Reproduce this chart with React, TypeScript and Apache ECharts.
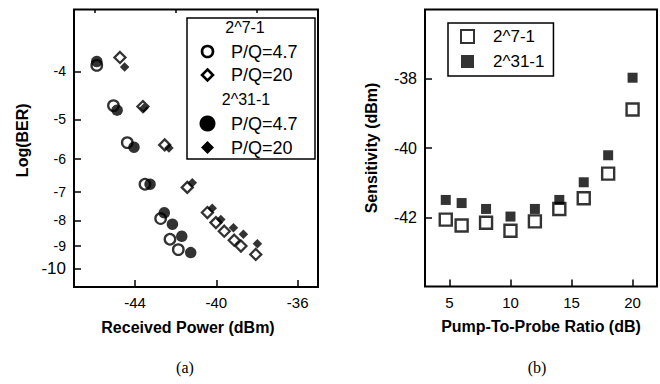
import React, { useEffect, useRef } from 'react';
import * as echarts from 'echarts';

// ---------- Panel (a): BER vs received power ----------
// 2^7-1, P/Q = 4.7 (open circles)
const pwr7_47 = [-45.88, -45.06, -44.38, -43.51, -42.74, -42.28, -41.87];
const ber7_47 = [-3.89, -4.69, -5.57, -6.76, -7.93, -8.73, -9.16];
// 2^7-1, P/Q = 20 (open diamonds)
const pwr7_20 = [-44.74, -43.61, -42.54, -41.43, -40.44, -40.02, -39.61, -39.12, -38.79, -38.06];
const ber7_20 = [-3.75, -4.71, -5.63, -6.86, -7.71, -8.08, -8.41, -8.77, -9.01, -9.37];
// 2^31-1, P/Q = 4.7 (filled circles)
const pwr31_47 = [-45.88, -44.88, -44.05, -43.26, -42.56, -42.16, -41.7, -41.26];
const ber31_47 = [-3.82, -4.79, -5.69, -6.76, -7.72, -8.14, -8.61, -9.29];
// 2^31-1, P/Q = 20 (filled diamonds)
const pwr31_20 = [-44.51, -43.56, -42.33, -41.18, -40.2, -39.78, -39.16, -38.67, -37.98];
const ber31_20 = [-3.92, -4.74, -5.71, -6.71, -7.56, -7.96, -8.28, -8.53, -8.91];

const berTicks = [-4, -5, -6, -7, -8, -9, -10];
const powerTicks = [-44, -40, -36];
const powerMinorTicks = [-46, -42, -38];

// ---------- Panel (b): sensitivity vs pump-to-probe ratio ----------
const pumpRatio = [4.7, 6, 8, 10, 12, 14, 16, 18, 20];
const sens7 = [-42.07, -42.24, -42.16, -42.39, -42.12, -41.76, -41.45, -40.74, -38.89];
const sens31 = [-41.5, -41.59, -41.76, -41.98, -41.76, -41.5, -40.99, -40.21, -37.97];
const ratioTicks = [5, 10, 15, 20];

const FONT = '"Liberation Sans", Arial, Helvetica, sans-serif';
const SERIF = '"Liberation Serif", "Times New Roman", serif';

// BER axis is a log(-log BER) scale
const berAxis = (l: number) => Math.log10(-l);
const pairs = (xs: number[], ys: number[], f: (v: number) => number = (v) => v) =>
  xs.map((x, i) => [x, f(ys[i])]);

const openStyle = { color: '#fff', borderColor: '#000', borderWidth: 2.3 };
const filledStyle = { color: '#000', borderWidth: 0 };

const tickStyle = { color: '#000', width: 1.5 };

function buildOption() {
  const legendX = 207.5;
  const legendTextX = 231;
  const rows = [27, 51.5, 75, 99, 123.5, 147.5];
  const txt = (text: string, x: number, y: number, align: string, size: number) => ({
    type: 'text',
    silent: true,
    z: 20,
    style: {
      text,
      x,
      y,
      fill: '#000',
      font: `${size}px ${FONT}`,
      align,
      verticalAlign: 'middle',
      textAlign: align,
      textVerticalAlign: 'middle',
    },
  });
  const diamond = (cx: number, cy: number, h: number) => [
    [cx, cy - h],
    [cx + h, cy],
    [cx, cy + h],
    [cx - h, cy],
  ];

  return {
    animation: false,
    backgroundColor: '#fff',
    grid: [
      { left: 74, top: 9.5, width: 244, height: 277.5, show: true, borderColor: '#000', borderWidth: 2, backgroundColor: 'transparent', outerBoundsMode: 'none' },
      { left: 425, top: 9.5, width: 232, height: 277, show: true, borderColor: '#000', borderWidth: 2, backgroundColor: 'transparent', outerBoundsMode: 'none' },
    ],
    legend: {
      data: ['2^7-1', '2^31-1'],
      left: 448,
      top: 23,
      orient: 'vertical',
      itemWidth: 13,
      itemHeight: 13,
      itemGap: 6,
      padding: [4, 9, 5, 12],
      borderColor: '#000',
      borderWidth: 1.5,
      selectedMode: false,
      textStyle: { fontSize: 17, fontFamily: FONT, color: '#000', padding: [0, 0, 0, 14], lineHeight: 19 },
    },
    xAxis: [
      {
        type: 'value',
        gridIndex: 0,
        min: -47,
        max: -35,
        axisLine: { show: false },
        splitLine: { show: false },
        axisTick: { show: true, inside: true, length: 7, customValues: powerTicks, lineStyle: tickStyle },
        axisLabel: { customValues: powerTicks, margin: 8, fontSize: 15, fontFamily: FONT, color: '#000' },
        name: 'Received Power (dBm)',
        nameLocation: 'middle',
        nameGap: 32,
        nameTextStyle: { fontSize: 16, fontWeight: 'bold', fontFamily: FONT, color: '#000', padding: [0, 16, 0, 0] },
      },
      {
        type: 'value',
        gridIndex: 0,
        min: -47,
        max: -35,
        axisLine: { show: false },
        splitLine: { show: false },
        axisLabel: { show: false },
        axisTick: { show: true, inside: true, length: 3.5, customValues: powerMinorTicks, lineStyle: tickStyle },
      },
      {
        type: 'value',
        gridIndex: 1,
        min: 3,
        max: 22,
        axisLine: { show: false },
        splitLine: { show: false },
        axisTick: { show: true, inside: true, length: 7, customValues: ratioTicks, lineStyle: tickStyle },
        axisLabel: { customValues: ratioTicks, margin: 8, fontSize: 15, fontFamily: FONT, color: '#000' },
        name: 'Pump-To-Probe Ratio (dB)',
        nameLocation: 'middle',
        nameGap: 32,
        nameTextStyle: { fontSize: 16, fontWeight: 'bold', fontFamily: FONT, color: '#000' },
      },
    ],
    yAxis: [
      {
        type: 'value',
        gridIndex: 0,
        inverse: true,
        min: berAxis(-3),
        max: berAxis(-10.9),
        axisLine: { show: false },
        splitLine: { show: false },
        axisTick: { show: true, inside: true, length: 7, customValues: berTicks.map(berAxis), lineStyle: tickStyle },
        axisLabel: {
          customValues: berTicks.map(berAxis),
          margin: 8,
          fontSize: 14,
          fontFamily: FONT,
          color: '#000',
          formatter: (v: number) => {
            const n = Math.round(Math.pow(10, v));
            return n === 10 ? '{big|-10}' : '-' + n;
          },
          rich: { big: { fontSize: 17, fontFamily: FONT, color: '#000' } },
        },
        name: 'Log(BER)',
        nameLocation: 'middle',
        nameGap: 44,
        nameTextStyle: { fontSize: 16, fontWeight: 'bold', fontFamily: FONT, color: '#000', padding: [0, 0, 0, 16] },
      },
      {
        type: 'value',
        gridIndex: 1,
        min: -44,
        max: -36,
        interval: 2,
        axisLine: { show: false },
        splitLine: { show: false },
        axisTick: { show: true, inside: true, length: 7, lineStyle: tickStyle },
        axisLabel: { showMinLabel: false, showMaxLabel: false, margin: 8, fontSize: 16, fontFamily: FONT, color: '#000' },
        name: 'Sensitivity (dBm)',
        nameLocation: 'middle',
        nameGap: 46,
        nameTextStyle: { fontSize: 16, fontWeight: 'bold', fontFamily: FONT, color: '#000' },
      },
    ],
    series: [
      { name: '2^7-1 P/Q=4.7', type: 'scatter', xAxisIndex: 0, yAxisIndex: 0, symbol: 'circle', symbolSize: 10.5, itemStyle: openStyle, data: pairs(pwr7_47, ber7_47, berAxis), silent: true },
      { name: '2^7-1 P/Q=20', type: 'scatter', xAxisIndex: 0, yAxisIndex: 0, symbol: 'diamond', symbolSize: 11, itemStyle: openStyle, data: pairs(pwr7_20, ber7_20, berAxis), silent: true },
      { name: '2^31-1 P/Q=4.7', type: 'scatter', xAxisIndex: 0, yAxisIndex: 0, symbol: 'circle', symbolSize: 11.5, itemStyle: filledStyle, data: pairs(pwr31_47, ber31_47, berAxis), silent: true },
      { name: '2^31-1 P/Q=20', type: 'scatter', xAxisIndex: 0, yAxisIndex: 0, symbol: 'diamond', symbolSize: 9.5, itemStyle: filledStyle, data: pairs(pwr31_20, ber31_20, berAxis), silent: true },
      { name: '2^7-1', type: 'scatter', xAxisIndex: 2, yAxisIndex: 1, symbol: 'rect', symbolSize: 12, itemStyle: { color: '#fff', borderColor: '#000', borderWidth: 2.4 }, data: pairs(pumpRatio, sens7), silent: true },
      { name: '2^31-1', type: 'scatter', xAxisIndex: 2, yAxisIndex: 1, symbol: 'rect', symbolSize: 10, itemStyle: filledStyle, data: pairs(pumpRatio, sens31), silent: true },
    ],
    graphic: [
      {
        type: 'rect',
        silent: true,
        z: 10,
        shape: { x: 187, y: 18, width: 128, height: 141 },
        style: { fill: '#fff', stroke: '#000', lineWidth: 1.5 },
      },
      txt('2^7-1', 245, rows[0], 'center', 16),
      txt('P/Q=4.7', legendTextX, rows[1], 'left', 18),
      txt('P/Q=20', legendTextX, rows[2], 'left', 18),
      txt('2^31-1', 246, rows[3], 'center', 16),
      txt('P/Q=4.7', legendTextX, rows[4], 'left', 18),
      txt('P/Q=20', legendTextX, rows[5], 'left', 18),
      { type: 'circle', silent: true, z: 20, shape: { cx: legendX, cy: rows[1], r: 5.5 }, style: { fill: '#fff', stroke: '#000', lineWidth: 2.6 } },
      { type: 'polygon', silent: true, z: 20, shape: { points: diamond(legendX, rows[2], 5.5) }, style: { fill: '#fff', stroke: '#000', lineWidth: 2.6 } },
      { type: 'circle', silent: true, z: 20, shape: { cx: legendX, cy: rows[4], r: 8 }, style: { fill: '#000' } },
      { type: 'polygon', silent: true, z: 20, shape: { points: diamond(legendX, rows[5], 6.5) }, style: { fill: '#000' } },
      {
        type: 'text',
        silent: true,
        style: { text: '(a)', x: 185, y: 367, fill: '#000', font: `16px ${SERIF}`, align: 'center', verticalAlign: 'middle', textAlign: 'center', textVerticalAlign: 'middle' },
      },
      {
        type: 'text',
        silent: true,
        style: { text: '(b)', x: 537, y: 367, fill: '#000', font: `16px ${SERIF}`, align: 'center', verticalAlign: 'middle', textAlign: 'center', textVerticalAlign: 'middle' },
      },
    ],
  };
}

export default function App() {
  const ref = useRef<HTMLDivElement>(null);
  useEffect(() => {
    if (!ref.current) return;
    const chart = echarts.init(ref.current, null, { renderer: 'svg' });
    chart.setOption(buildOption() as any);
    return () => chart.dispose();
  }, []);
  return (
    <div
      ref={ref}
      style={{ position: 'fixed', left: 0, top: 0, width: 660, height: 384, background: '#fff' }}
    />
  );
}
